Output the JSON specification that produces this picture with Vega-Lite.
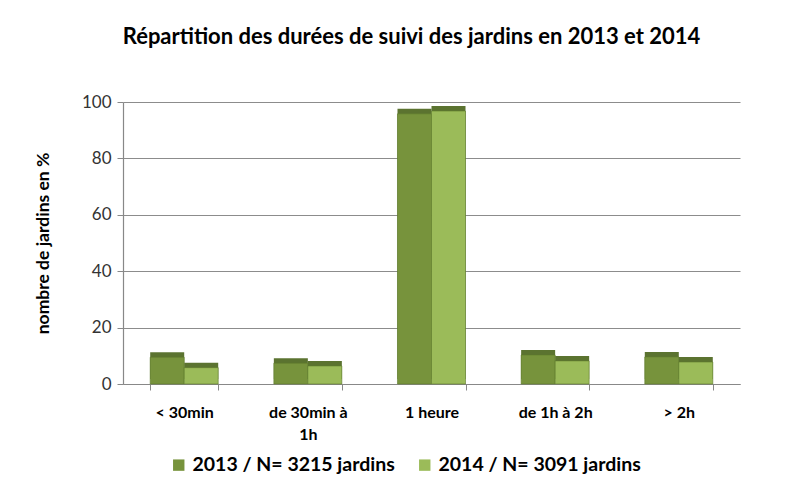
{
  "$schema": "https://vega.github.io/schema/vega-lite/v6.json",
  "autosize": {"type": "none"},
  "padding": {"left": 123, "top": 102, "right": 63, "bottom": 107},
  "width": 617,
  "height": 282,
  "background": "white",
  "title": {
    "text": "Répartition des durées de suivi des jardins en 2013 et 2014",
    "font": "Lato",
    "fontSize": 22,
    "fontWeight": "bold",
    "color": "#000000",
    "anchor": "middle",
    "dx": -20,
    "offset": 44
  },
  "data": {
    "values": [
      {"duree": "< 30min", "annee": "2013 / N= 3215 jardins", "pct": 9.5},
      {"duree": "< 30min", "annee": "2014 / N= 3091 jardins", "pct": 5.8},
      {"duree": "de 30min à 1h", "annee": "2013 / N= 3215 jardins", "pct": 7.4},
      {"duree": "de 30min à 1h", "annee": "2014 / N= 3091 jardins", "pct": 6.4},
      {"duree": "1 heure", "annee": "2013 / N= 3215 jardins", "pct": 95.8},
      {"duree": "1 heure", "annee": "2014 / N= 3091 jardins", "pct": 96.8},
      {"duree": "de 1h à 2h", "annee": "2013 / N= 3215 jardins", "pct": 10.3},
      {"duree": "de 1h à 2h", "annee": "2014 / N= 3091 jardins", "pct": 8.2},
      {"duree": "> 2h", "annee": "2013 / N= 3215 jardins", "pct": 9.6},
      {"duree": "> 2h", "annee": "2014 / N= 3091 jardins", "pct": 7.8}
    ]
  },
  "encoding": {
    "x": {
      "field": "duree",
      "type": "nominal",
      "sort": ["< 30min", "de 30min à 1h", "1 heure", "de 1h à 2h", "> 2h"],
      "scale": {"paddingInner": 0.45, "paddingOuter": 0.22},
      "axis": {
        "title": null,
        "labelAngle": 0,
        "labelFont": "Lato",
        "labelFontSize": 16,
        "labelFontWeight": "bold",
        "labelColor": "#000000",
        "labelPadding": 14,
        "labelLimit": 0,
        "labelExpr": "datum.label == 'de 30min à 1h' ? ['de 30min à', '1h'] : datum.label",
        "labelLineHeight": 22,
        "domainColor": "#888888",
        "tickColor": "#888888",
        "tickBand": "extent",
        "tickSize": 6
      }
    },
    "xOffset": {"field": "annee", "type": "nominal", "scale": {"paddingInner": 0}},
    "y": {
      "field": "pct",
      "type": "quantitative",
      "scale": {"domain": [0, 100]},
      "axis": {
        "title": "nombre de jardins en %",
        "titleFont": "Lato",
        "titleFontSize": 17.5,
        "titleFontWeight": "bold",
        "titleColor": "#000000",
        "titlePadding": 29,
        "values": [0, 20, 40, 60, 80, 100],
        "labelFont": "Lato",
        "labelFontSize": 17,
        "labelColor": "#333333",
        "labelPadding": 6,
        "domainColor": "#888888",
        "tickColor": "#888888",
        "tickSize": 6,
        "gridColor": "#8c8c8c",
        "gridWidth": 1.2
      }
    },
    "color": {
      "field": "annee",
      "type": "nominal",
      "scale": {"range": ["#77933C", "#9BBB59"]},
      "legend": {
        "title": null,
        "orient": "none",
        "direction": "horizontal",
        "legendX": 46,
        "legendY": 353,
        "symbolType": "square",
        "symbolSize": 130,
        "symbolStrokeWidth": 0,
        "labelFont": "Lato",
        "labelFontSize": 19.5,
        "labelFontWeight": "bold",
        "labelColor": "#000000",
        "labelOffset": 4,
        "labelLimit": 0,
        "columnPadding": 20
      }
    }
  },
  "layer": [
    {
      "mark": {"type": "bar", "yOffset": -5, "color": "#5b7330"},
      "encoding": {"color": {"value": "#5b7330"}}
    },
    {
      "mark": {"type": "bar", "stroke": "#5e7a2c", "strokeWidth": 0.6}
    }
  ],
  "config": {
    "view": {"stroke": null},
    "axis": {"domainWidth": 1.2}
  }
}
